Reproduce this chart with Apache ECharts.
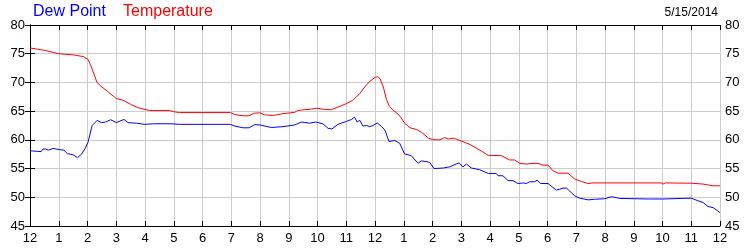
<!DOCTYPE html>
<html>
<head>
<meta charset="utf-8">
<script src="https://cdn.jsdelivr.net/npm/echarts@6/dist/echarts.min.js"></script>
<style>html,body{margin:0;padding:0;background:#fff}#c{width:750px;height:250px}</style>
</head>
<body>
<div id="c"></div>
<script>
var hourLabels = ["12","1","2","3","4","5","6","7","8","9","10","11","12","1","2","3","4","5","6","7","8","9","10","11","12"];
var yTicks = [45, 50, 55, 60, 65, 70, 75, 80];

var tempHours = [0,0.5,1.0,1.5,1.85,2.02,2.15,2.33,2.5,2.71,2.9,3.0,3.23,3.5,3.75,4.0,4.17,4.86,5.0,5.2,6.97,7.12,7.41,7.62,7.81,8.0,8.16,8.45,8.8,8.86,9.21,9.3,9.44,9.79,9.96,10.25,10.48,10.71,11.0,11.23,11.47,11.64,11.82,12.01,12.1,12.17,12.29,12.4,12.5,12.64,12.8,12.9,13.03,13.22,13.45,13.62,13.86,14.0,14.26,14.42,14.55,14.72,14.95,15.3,15.65,15.94,16.4,16.68,16.86,17.03,17.26,17.5,17.67,17.84,18.02,18.19,18.37,18.71,18.94,19.18,19.41,19.58,21.95,22.02,22.1,23.0,23.41,23.76,24.0];
var tempValues = [76.0,75.6,75.0,74.8,74.5,74.0,72.5,70.0,69.2,68.4,67.6,67.2,66.9,66.2,65.6,65.3,65.1,65.1,64.9,64.75,64.75,64.4,64.2,64.2,64.65,64.7,64.35,64.25,64.55,64.7,64.8,65.1,65.2,65.35,65.5,65.3,65.25,65.7,66.3,66.9,68.05,69.2,70.2,70.9,71.0,70.7,69.2,67.0,65.8,65.1,64.5,63.9,62.9,62.1,61.8,61.3,60.3,60.05,60.0,60.4,60.15,60.3,59.9,59.2,58.2,57.3,57.25,56.5,56.5,55.9,55.8,55.9,55.9,55.6,55.6,54.6,54.2,54.2,53.2,52.75,52.4,52.5,52.5,52.3,52.5,52.45,52.3,52.0,52.0];

var dewHours = [0,0.25,0.39,0.45,0.55,0.63,0.8,1.03,1.18,1.3,1.5,1.65,1.79,1.92,2.02,2.16,2.34,2.48,2.62,2.81,3.0,3.27,3.41,3.7,3.99,4.3,4.8,4.83,4.9,5.2,6.97,7.12,7.41,7.62,7.82,8.0,8.39,8.8,9.21,9.44,9.73,9.93,10.19,10.37,10.5,10.71,11.0,11.18,11.29,11.38,11.47,11.58,11.7,11.82,11.93,12.08,12.23,12.34,12.49,12.68,12.86,13.03,13.26,13.5,13.61,13.9,14.05,14.38,14.6,14.92,15.06,15.18,15.35,15.64,15.94,16.22,16.28,16.45,16.63,16.8,16.97,17.15,17.26,17.38,17.55,17.64,17.76,18.02,18.19,18.31,18.42,18.54,18.66,18.77,18.94,19.12,19.41,19.64,19.99,20.22,20.39,20.51,21.55,22.02,23.0,23.23,23.41,23.58,23.76,23.93,24.0];
var dewValues = [58.1,58.0,57.95,58.4,58.4,58.2,58.5,58.3,58.2,57.6,57.4,56.9,57.5,58.5,59.6,62.5,63.4,63.0,63.1,63.5,63.0,63.55,63.0,62.9,62.7,62.8,62.8,62.55,62.8,62.7,62.7,62.4,62.1,62.1,62.65,62.6,62.15,62.3,62.6,63.1,62.9,63.1,62.8,62.0,61.9,62.7,63.2,63.55,63.95,63.1,63.4,62.4,62.5,62.3,62.5,62.95,62.3,61.75,59.7,59.9,59.4,57.55,57.25,55.9,56.35,56.1,55.0,55.1,55.3,56.0,55.3,55.8,55.1,54.8,54.15,54.15,53.75,53.75,52.9,52.9,52.4,52.5,52.4,52.7,52.7,53.0,52.4,52.4,51.7,51.25,51.4,51.6,51.6,51.1,50.25,49.85,49.55,49.65,49.75,50.1,49.95,49.8,49.7,49.7,49.85,49.4,49.1,48.4,48.2,47.6,47.3];

function pairs(xs, ys) { return xs.map(function (x, i) { return [x, ys[i]]; }); }

var FONT = '"Liberation Sans", Arial, sans-serif';
var chart = echarts.init(document.getElementById('c'), null, {renderer: 'canvas'});
var yAxisBase = {
  type: 'value', min: yTicks[0], max: yTicks[yTicks.length - 1], interval: 5,
  axisLine: {show: true, lineStyle: {color: '#000', width: 1}},
  axisTick: {show: true, inside: true, length: 5, lineStyle: {color: '#000'}},
  axisLabel: {color: '#000', fontSize: 13, fontFamily: FONT, margin: 5}
};
chart.setOption({
  animation: false,
  grid: {left: 30, right: 30, top: 25, bottom: 24, containLabel: false},
  xAxis: [{
    type: 'value', min: 0, max: 24, interval: 1, position: 'bottom',
    axisLine: {show: true, lineStyle: {color: '#000', width: 1}},
    axisTick: {show: true, inside: true, length: 5, lineStyle: {color: '#000'}},
    axisLabel: {color: '#000', fontSize: 13, fontFamily: FONT, margin: 6,
      formatter: function (v) { return hourLabels[Math.round(v)]; }},
    splitLine: {show: true, lineStyle: {color: '#cccccc', width: 1}}
  }, {
    type: 'value', min: 0, max: 24, interval: 1, position: 'top',
    axisLine: {show: true, lineStyle: {color: '#000', width: 1}},
    axisTick: {show: true, inside: true, length: 5, lineStyle: {color: '#000'}},
    axisLabel: {show: false}, splitLine: {show: false}
  }],
  yAxis: [
    Object.assign({}, yAxisBase, {position: 'left',
      splitLine: {show: true, lineStyle: {color: '#cccccc', width: 1}}}),
    Object.assign({}, yAxisBase, {position: 'right', splitLine: {show: false}})
  ],
  graphic: [
    {type: 'text', left: 33, top: 4, style: {text: 'Dew Point', fill: '#0000ff', font: '16px ' + FONT}},
    {type: 'text', left: 123, top: 4, style: {text: 'Temperature', fill: '#ff0000', font: '16px ' + FONT}},
    {type: 'text', right: 32, top: 7, style: {text: '5/15/2014', fill: '#000', font: '12px ' + FONT}}
  ],
  series: [{
    name: 'Temperature', type: 'line', xAxisIndex: 0, yAxisIndex: 0, showSymbol: false,
    lineStyle: {color: '#ff0000', width: 1}, data: pairs(tempHours, tempValues)
  }, {
    name: 'Dew Point', type: 'line', xAxisIndex: 0, yAxisIndex: 0, showSymbol: false,
    lineStyle: {color: '#0000ff', width: 1}, data: pairs(dewHours, dewValues)
  }]
});
</script>
</body>
</html>
